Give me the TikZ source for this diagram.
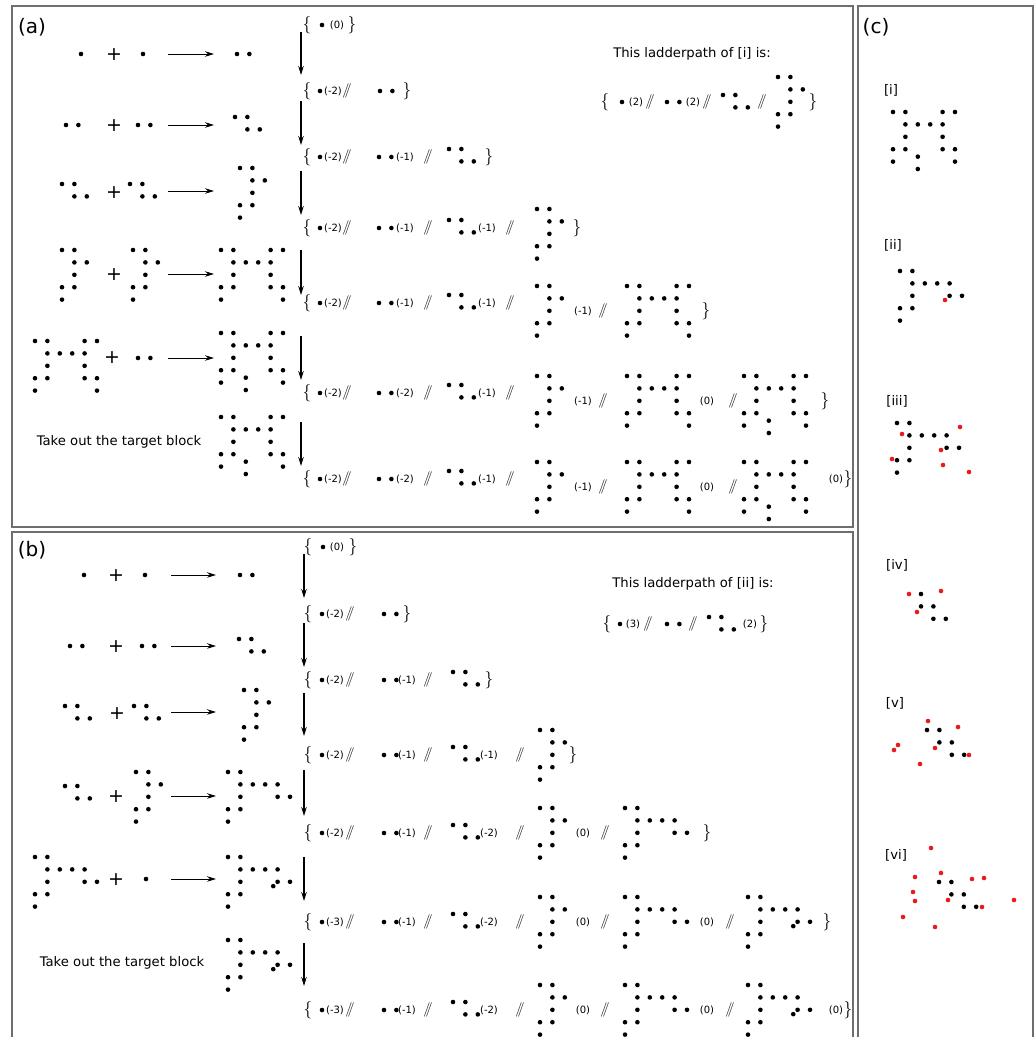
\documentclass[tikz,border=0pt]{standalone}
\usepackage{fontspec}
\setmainfont{DejaVu Sans}
\usetikzlibrary{arrows.meta}
\definecolor{framegray}{RGB}{110,110,110}
\definecolor{dotred}{RGB}{235,25,25}
\def\shA{0/0}
\def\shB{0/0,1/0}
\def\shC{0/0,1/0,1/1,2/1}
\def\shD{0/0,1/0,1/1,2/1,1/2,0/3,1/3,0/4}
\def\shE{0/0,1/0,1/1,2/1,1/2,0/3,1/3,0/4,5/0,4/0,4/1,3/1,4/2,5/3,4/3,5/4}
\def\shF{0/0,1/0,1/1,2/1,1/2,0/3,1/3,0/4,5/0,4/0,4/1,3/1,4/2,5/3,4/3,5/4,2/3.6,2/4.6}
\def\shG{0/0,1/0,1/1,2/1,1/2,0/3,1/3,0/4,3/1,4/1,4/2,5/2}
\def\shH{0/0,1/0,1/1,2/1,1/2,0/3,1/3,0/4,3/1,4/1,4/2,5/2,3.65/2.35}
\def\shS{0/0,1/0,1/1,2/1,2/2,3/2}
\newcommand{\dotblock}[3][black]{\begin{scope}[shift={#2}]\foreach \cx/\cy in #3 {\fill[#1] (\cx*12.4,\cy*12.4) circle (2.3pt);}\end{scope}}
\tikzset{
  num/.style={font=\fontsize{10}{12}\selectfont,inner sep=0pt},
  brc/.style={font=\fontsize{16}{18}\selectfont,inner sep=0pt},
  sl/.style={font=\fontsize{15}{17}\selectfont,inner sep=0pt},
  pls/.style={font=\fontsize{19}{21}\selectfont,inner sep=0pt},
  txt/.style={font=\fontsize{13.2}{15}\selectfont,inner sep=0pt},
  tag/.style={font=\fontsize{20}{24}\selectfont,inner sep=0pt},
  frame/.style={draw=framegray,line width=1.2pt},
  harr/.style={->,line width=0.9pt},
  varr/.style={->,line width=1.3pt}
}
\begin{document}
\begin{tikzpicture}[x=1pt,y=-1pt,>={Stealth[length=9pt,width=5.5pt]}]
\useasboundingbox (0,0) rectangle (1036,1037);
\draw[frame] (12,6) rectangle (853,527);
\draw[frame] (12,532) rectangle (853,1045);
\draw[frame] (858,6) rectangle (1033,1045);
\node[tag] (taga) at (32,27) {(a)};
\node[tag] (tagb) at (32,550) {(b)};
\node[tag] (tagc) at (876,27) {(c)};

\dotblock{(81,54)}{\shA}
\node[pls] (ap1) at (114,55) {+};
\dotblock{(143,54)}{\shA}
\coordinate (ah1s) at (168,54); \coordinate (ah1e) at (214,54);
\dotblock{(237,54)}{\shB}
\dotblock{(66,125)}{\shB}
\node[pls] (ap2) at (114,126) {+};
\dotblock{(138,125)}{\shB}
\coordinate (ah2s) at (168,125); \coordinate (ah2e) at (214,125);
\dotblock{(235,117)}{\shC}
\dotblock{(62,184)}{\shC}
\node[pls] (ap3) at (114,193) {+};
\dotblock{(130,184)}{\shC}
\coordinate (ah3s) at (168,191); \coordinate (ah3e) at (214,191);
\dotblock{(240,168)}{\shD}
\dotblock{(62,250)}{\shD}
\node[pls] (ap4) at (114,275) {+};
\dotblock{(133,250)}{\shD}
\coordinate (ah4s) at (168,274); \coordinate (ah4e) at (214,274);
\dotblock{(221,250)}{\shE}
\dotblock{(35,341)}{\shE}
\node[pls] (ap5) at (112,358) {+};
\dotblock{(138,358)}{\shB}
\coordinate (ah5s) at (168,358); \coordinate (ah5e) at (214,358);
\dotblock{(221,333)}{\shF}
\node[txt] (atake) at (119,442) {Take out the target block};
\dotblock{(221,417)}{\shF}
\foreach \i in {1,...,5} \draw[harr] (ah\i s) -- (ah\i e);

\foreach \i/\ys/\ye in {1/32/75,2/101/145,3/171/215,4/250/295,5/336/380,6/422/466} {
  \coordinate (av\i s) at (301,\ys); \coordinate (av\i e) at (301,\ye);
  \draw[varr] (av\i s) -- (av\i e);
}

\node[brc] (a1o) at (307,25) {$\{$};
\dotblock{(322,25)}{\shA}
\node[num] (a1n1) at (337,25) {(0)};
\node[brc] (a1c) at (352,25) {$\}$};

\node[brc] (a2o) at (307,91) {$\{$};
\dotblock{(320,91)}{\shA}
\node[num] (a2n1) at (333,91) {(-2)};
\node[sl] (a2s1) at (347,91) {$/\!\!/$};
\dotblock{(380,91)}{\shB}
\node[brc] (a2c) at (407,91) {$\}$};

\node[brc] (a3o) at (307,157) {$\{$};
\dotblock{(320,157)}{\shA}
\node[num] (a3n1) at (333,157) {(-2)};
\node[sl] (a3s1) at (347,157) {$/\!\!/$};
\dotblock{(379,157)}{\shB}
\node[num] (a3n2) at (405,157) {(-1)};
\node[sl] (a3s2) at (428,157) {$/\!\!/$};
\dotblock{(449,149)}{\shC}
\node[brc] (a3c) at (489,157) {$\}$};

\node[brc] (a4o) at (307,228) {$\{$};
\dotblock{(320,228)}{\shA}
\node[num] (a4n1) at (333,228) {(-2)};
\node[sl] (a4s1) at (347,228) {$/\!\!/$};
\dotblock{(379,228)}{\shB}
\node[num] (a4n2) at (405,228) {(-1)};
\node[sl] (a4s2) at (428,228) {$/\!\!/$};
\dotblock{(449,220)}{\shC}
\node[num] (a4n3) at (487,228) {(-1)};
\node[sl] (a4s3) at (510,228) {$/\!\!/$};
\dotblock{(537,209)}{\shD}
\node[brc] (a4c) at (577,228) {$\}$};

\node[brc] (a5o) at (307,303) {$\{$};
\dotblock{(320,303)}{\shA}
\node[num] (a5n1) at (333,303) {(-2)};
\node[sl] (a5s1) at (347,303) {$/\!\!/$};
\dotblock{(379,303)}{\shB}
\node[num] (a5n2) at (405,303) {(-1)};
\node[sl] (a5s2) at (428,303) {$/\!\!/$};
\dotblock{(449,295)}{\shC}
\node[num] (a5n3) at (487,303) {(-1)};
\node[sl] (a5s3) at (510,303) {$/\!\!/$};
\dotblock{(537,286)}{\shD}
\node[num] (a5n4) at (583,311) {(-1)};
\node[sl] (a5s4) at (603,311) {$/\!\!/$};
\dotblock{(627,286)}{\shE}
\node[brc] (a5c) at (706,311) {$\}$};

\node[brc] (a6o) at (307,393) {$\{$};
\dotblock{(320,393)}{\shA}
\node[num] (a6n1) at (333,393) {(-2)};
\node[sl] (a6s1) at (347,393) {$/\!\!/$};
\dotblock{(379,393)}{\shB}
\node[num] (a6n2) at (405,393) {(-2)};
\node[sl] (a6s2) at (428,393) {$/\!\!/$};
\dotblock{(449,385)}{\shC}
\node[num] (a6n3) at (487,393) {(-1)};
\node[sl] (a6s3) at (510,393) {$/\!\!/$};
\dotblock{(537,376)}{\shD}
\node[num] (a6n4) at (583,401) {(-1)};
\node[sl] (a6s4) at (603,401) {$/\!\!/$};
\dotblock{(627,376)}{\shE}
\node[num] (a6n5) at (707,401) {(0)};
\node[sl] (a6s5) at (733,401) {$/\!\!/$};
\dotblock{(744,376)}{\shF}
\node[brc] (a6c) at (825,401) {$\}$};

\node[brc] (a7o) at (307,479) {$\{$};
\dotblock{(320,479)}{\shA}
\node[num] (a7n1) at (333,479) {(-2)};
\node[sl] (a7s1) at (347,479) {$/\!\!/$};
\dotblock{(379,479)}{\shB}
\node[num] (a7n2) at (405,479) {(-2)};
\node[sl] (a7s2) at (428,479) {$/\!\!/$};
\dotblock{(449,471)}{\shC}
\node[num] (a7n3) at (487,479) {(-1)};
\node[sl] (a7s3) at (510,479) {$/\!\!/$};
\dotblock{(537,462)}{\shD}
\node[num] (a7n4) at (583,487) {(-1)};
\node[sl] (a7s4) at (603,487) {$/\!\!/$};
\dotblock{(627,462)}{\shE}
\node[num] (a7n5) at (707,487) {(0)};
\node[sl] (a7s5) at (733,487) {$/\!\!/$};
\dotblock{(744,462)}{\shF}
\node[num] (a7n6) at (836,479) {(0)};
\node[brc] (a7c) at (848,479) {$\}$};

\node[txt] (ahead) at (692,54) {This ladderpath of [i] is:};
\node[brc] (aro) at (605,102) {$\{$};
\dotblock{(622,102)}{\shA}
\node[num] (arn1) at (636,102) {(2)};
\node[sl] (ars1) at (650,102) {$/\!\!/$};
\dotblock{(667,102)}{\shB}
\node[num] (arn2) at (693,102) {(2)};
\node[sl] (ars2) at (707,102) {$/\!\!/$};
\dotblock{(723,95)}{\shC}
\node[sl] (ars3) at (762,102) {$/\!\!/$};
\dotblock{(778,77)}{\shD}
\node[brc] (arc) at (813,102) {$\}$};

\dotblock{(84,575)}{\shA}
\node[pls] (bp1) at (116,576) {+};
\dotblock{(145,575)}{\shA}
\coordinate (bh1s) at (171,575); \coordinate (bh1e) at (216,575);
\dotblock{(240,575)}{\shB}
\dotblock{(70,646)}{\shB}
\node[pls] (bp2) at (116,647) {+};
\dotblock{(142,646)}{\shB}
\coordinate (bh2s) at (171,646); \coordinate (bh2e) at (216,646);
\dotblock{(239,639)}{\shC}
\dotblock{(65,706)}{\shC}
\node[pls] (bp3) at (117,714) {+};
\dotblock{(134,706)}{\shC}
\coordinate (bh3s) at (171,712); \coordinate (bh3e) at (216,712);
\dotblock{(244,690)}{\shD}
\dotblock{(65,786)}{\shC}
\node[pls] (bp4) at (116,797) {+};
\dotblock{(136,772)}{\shD}
\coordinate (bh4s) at (171,796); \coordinate (bh4e) at (216,796);
\dotblock{(228,772)}{\shG}
\dotblock{(35,857)}{\shG}
\node[pls] (bp5) at (116,880) {+};
\dotblock{(146,879)}{\shA}
\coordinate (bh5s) at (171,879); \coordinate (bh5e) at (216,879);
\dotblock{(228,857)}{\shH}
\node[txt] (btake) at (122,963) {Take out the target block};
\dotblock{(228,940)}{\shH}
\foreach \i in {1,...,5} \draw[harr] (bh\i s) -- (bh\i e);

\foreach \i/\ys/\ye in {1/554/598,2/623/667,3/693/736,4/770/816,5/857/901,6/943/986} {
  \coordinate (bv\i s) at (304,\ys); \coordinate (bv\i e) at (304,\ye);
  \draw[varr] (bv\i s) -- (bv\i e);
}

\node[brc] (b1o) at (308,547) {$\{$};
\dotblock{(323,547)}{\shA}
\node[num] (b1n1) at (337,547) {(0)};
\node[brc] (b1c) at (353,547) {$\}$};

\node[brc] (b2o) at (308,614) {$\{$};
\dotblock{(322,614)}{\shA}
\node[num] (b2n1) at (335,614) {(-2)};
\node[sl] (b2s1) at (350,614) {$/\!\!/$};
\dotblock{(384,614)}{\shB}
\node[brc] (b2c) at (407,614) {$\}$};

\node[brc] (b3o) at (308,680) {$\{$};
\dotblock{(322,680)}{\shA}
\node[num] (b3n1) at (335,680) {(-2)};
\node[sl] (b3s1) at (350,680) {$/\!\!/$};
\dotblock{(384,680)}{\shB}
\node[num] (b3n2) at (407,680) {(-1)};
\node[sl] (b3s2) at (428,680) {$/\!\!/$};
\dotblock{(453,672)}{\shC}
\node[brc] (b3c) at (489,680) {$\}$};

\node[brc] (b4o) at (308,755) {$\{$};
\dotblock{(322,755)}{\shA}
\node[num] (b4n1) at (335,755) {(-2)};
\node[sl] (b4s1) at (350,755) {$/\!\!/$};
\dotblock{(384,755)}{\shB}
\node[num] (b4n2) at (407,755) {(-1)};
\node[sl] (b4s2) at (428,755) {$/\!\!/$};
\dotblock{(453,747)}{\shC}
\node[num] (b4n3) at (489,755) {(-1)};
\node[sl] (b4s3) at (520,755) {$/\!\!/$};
\dotblock{(540,730)}{\shD}
\node[brc] (b4c) at (573,755) {$\}$};

\node[brc] (b5o) at (308,833) {$\{$};
\dotblock{(322,833)}{\shA}
\node[num] (b5n1) at (335,833) {(-2)};
\node[sl] (b5s1) at (350,833) {$/\!\!/$};
\dotblock{(384,833)}{\shB}
\node[num] (b5n2) at (407,833) {(-1)};
\node[sl] (b5s2) at (428,833) {$/\!\!/$};
\dotblock{(453,825)}{\shC}
\node[num] (b5n3) at (489,833) {(-2)};
\node[sl] (b5s3) at (520,833) {$/\!\!/$};
\dotblock{(540,808)}{\shD}
\node[num] (b5n4) at (583,833) {(0)};
\node[sl] (b5s4) at (605,833) {$/\!\!/$};
\dotblock{(625,808)}{\shG}
\node[brc] (b5c) at (707,833) {$\}$};

\node[brc] (b6o) at (308,922) {$\{$};
\dotblock{(322,922)}{\shA}
\node[num] (b6n1) at (335,922) {(-3)};
\node[sl] (b6s1) at (350,922) {$/\!\!/$};
\dotblock{(384,922)}{\shB}
\node[num] (b6n2) at (407,922) {(-1)};
\node[sl] (b6s2) at (428,922) {$/\!\!/$};
\dotblock{(453,914)}{\shC}
\node[num] (b6n3) at (489,922) {(-2)};
\node[sl] (b6s3) at (520,922) {$/\!\!/$};
\dotblock{(540,897)}{\shD}
\node[num] (b6n4) at (583,922) {(0)};
\node[sl] (b6s4) at (605,922) {$/\!\!/$};
\dotblock{(625,897)}{\shG}
\node[num] (b6n5) at (707,922) {(0)};
\node[sl] (b6s5) at (730,922) {$/\!\!/$};
\dotblock{(748,897)}{\shH}
\node[brc] (b6c) at (827,922) {$\}$};

\node[brc] (b7o) at (308,1010) {$\{$};
\dotblock{(322,1010)}{\shA}
\node[num] (b7n1) at (335,1010) {(-3)};
\node[sl] (b7s1) at (350,1010) {$/\!\!/$};
\dotblock{(384,1010)}{\shB}
\node[num] (b7n2) at (407,1010) {(-1)};
\node[sl] (b7s2) at (428,1010) {$/\!\!/$};
\dotblock{(453,1002)}{\shC}
\node[num] (b7n3) at (489,1010) {(-2)};
\node[sl] (b7s3) at (520,1010) {$/\!\!/$};
\dotblock{(540,985)}{\shD}
\node[num] (b7n4) at (583,1010) {(0)};
\node[sl] (b7s4) at (605,1010) {$/\!\!/$};
\dotblock{(625,985)}{\shG}
\node[num] (b7n5) at (707,1010) {(0)};
\node[sl] (b7s5) at (730,1010) {$/\!\!/$};
\dotblock{(748,985)}{\shH}
\node[num] (b7n6) at (836,1010) {(0)};
\node[brc] (b7c) at (848,1010) {$\}$};

\node[txt] (bhead) at (693,584) {This ladderpath of [ii] is:};
\node[brc] (bro) at (607,624) {$\{$};
\dotblock{(620,624)}{\shA}
\node[num] (brn1) at (633,624) {(3)};
\node[sl] (brs1) at (648,624) {$/\!\!/$};
\dotblock{(667,624)}{\shB}
\node[sl] (brs2) at (693,624) {$/\!\!/$};
\dotblock{(709,617)}{\shC}
\node[num] (brn3) at (750,624) {(2)};
\node[brc] (brc) at (764,624) {$\}$};

\node[txt] (ci) at (891,90) {[i]};
\dotblock{(893,112)}{\shF}
\node[txt] (cii) at (893,245) {[ii]};
\dotblock{(900,271)}{\shG}
\dotblock[dotred]{(945,300)}{\shA}
\node[txt] (ciii) at (897,401) {[iii]};
\dotblock{(897,423)}{\shG}
\foreach \px/\py in {902/434,960/427,941/450,892/459,943/465,969/472} \fill[dotred] (\px,\py) circle (2.3pt);
\node[txt] (civ) at (897,565) {[iv]};
\dotblock{(921,594)}{{0/0,0/1,1/1,1/2,2/2}}
\foreach \px/\py in {909/594,941/591,917/612} \fill[dotred] (\px,\py) circle (2.3pt);
\node[txt] (cv) at (895,703) {[v]};
\dotblock{(927,730)}{\shS}
\foreach \px/\py in {928/721,958/727,898/745,894/750,935/748,920/764,969/755} \fill[dotred] (\px,\py) circle (2.3pt);
\node[txt] (cvi) at (896,855) {[vi]};
\dotblock{(939,882)}{\shS}
\foreach \px/\py in {931/848,915/877,941/873,972/879,984/878,913/892,915/901,948/900,1014/900,982/907,903/917,935/927} \fill[dotred] (\px,\py) circle (2.3pt);
\end{tikzpicture}
\end{document}
